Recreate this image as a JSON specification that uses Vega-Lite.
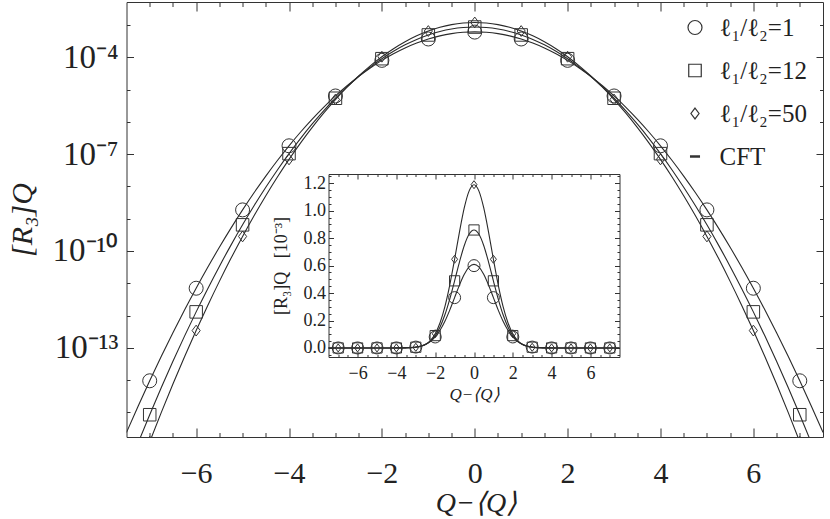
{
 "$schema": "https://vega.github.io/schema/vega-lite/v6.json",
 "width": 696.5,
 "height": 435,
 "autosize": "none",
 "padding": {"left": 126.5, "top": 2, "right": 7, "bottom": 82},
 "background": "white",
 "config": {
  "view": {"stroke": null},
  "font": "Liberation Serif",
  "axis": {"grid": false, "domainColor": "#333", "domainWidth": 1, "tickColor": "#333", "tickWidth": 1, "labelColor": "#222", "titleColor": "#222", "labelFont": "Liberation Serif", "titleFont": "Liberation Serif", "titleFontWeight": "normal", "labelFlush": false, "labelOverlap": false, "labelBound": false}
 },
 "datasets": {
  "curves": [
   {"Q":-7.5,"s":"ℓ₁/ℓ₂=1","R":2.409e-16},{"Q":-7.25,"s":"ℓ₁/ℓ₂=1","R":1.567e-15},{"Q":-7,"s":"ℓ₁/ℓ₂=1","R":9.561e-15},{"Q":-6.75,"s":"ℓ₁/ℓ₂=1","R":5.476e-14},{"Q":-6.5,"s":"ℓ₁/ℓ₂=1","R":2.943e-13},{"Q":-6.25,"s":"ℓ₁/ℓ₂=1","R":1.485e-12},{"Q":-6,"s":"ℓ₁/ℓ₂=1","R":7.030e-12},{"Q":-5.75,"s":"ℓ₁/ℓ₂=1","R":3.124e-11},{"Q":-5.5,"s":"ℓ₁/ℓ₂=1","R":1.303e-10},{"Q":-5.25,"s":"ℓ₁/ℓ₂=1","R":5.099e-10},{"Q":-5,"s":"ℓ₁/ℓ₂=1","R":1.873e-9},{"Q":-4.75,"s":"ℓ₁/ℓ₂=1","R":6.457e-9},{"Q":-4.5,"s":"ℓ₁/ℓ₂=1","R":2.089e-8},{"Q":-4.25,"s":"ℓ₁/ℓ₂=1","R":6.342e-8},{"Q":-4,"s":"ℓ₁/ℓ₂=1","R":1.807e-7},{"Q":-3.75,"s":"ℓ₁/ℓ₂=1","R":4.833e-7},{"Q":-3.5,"s":"ℓ₁/ℓ₂=1","R":1.213e-6},{"Q":-3.25,"s":"ℓ₁/ℓ₂=1","R":2.857e-6},{"Q":-3,"s":"ℓ₁/ℓ₂=1","R":6.317e-6},{"Q":-2.75,"s":"ℓ₁/ℓ₂=1","R":1.310e-5},{"Q":-2.5,"s":"ℓ₁/ℓ₂=1","R":2.552e-5},{"Q":-2.25,"s":"ℓ₁/ℓ₂=1","R":4.663e-5},{"Q":-2,"s":"ℓ₁/ℓ₂=1","R":7.998e-5},{"Q":-1.75,"s":"ℓ₁/ℓ₂=1","R":1.287e-4},{"Q":-1.5,"s":"ℓ₁/ℓ₂=1","R":1.945e-4},{"Q":-1.25,"s":"ℓ₁/ℓ₂=1","R":2.757e-4},{"Q":-1,"s":"ℓ₁/ℓ₂=1","R":3.668e-4},{"Q":-0.75,"s":"ℓ₁/ℓ₂=1","R":4.581e-4},{"Q":-0.5,"s":"ℓ₁/ℓ₂=1","R":5.368e-4},{"Q":-0.25,"s":"ℓ₁/ℓ₂=1","R":5.905e-4},{"Q":0,"s":"ℓ₁/ℓ₂=1","R":6.095e-4},{"Q":0.25,"s":"ℓ₁/ℓ₂=1","R":5.905e-4},{"Q":0.5,"s":"ℓ₁/ℓ₂=1","R":5.368e-4},{"Q":0.75,"s":"ℓ₁/ℓ₂=1","R":4.581e-4},{"Q":1,"s":"ℓ₁/ℓ₂=1","R":3.668e-4},{"Q":1.25,"s":"ℓ₁/ℓ₂=1","R":2.757e-4},{"Q":1.5,"s":"ℓ₁/ℓ₂=1","R":1.945e-4},{"Q":1.75,"s":"ℓ₁/ℓ₂=1","R":1.287e-4},{"Q":2,"s":"ℓ₁/ℓ₂=1","R":7.998e-5},{"Q":2.25,"s":"ℓ₁/ℓ₂=1","R":4.663e-5},{"Q":2.5,"s":"ℓ₁/ℓ₂=1","R":2.552e-5},{"Q":2.75,"s":"ℓ₁/ℓ₂=1","R":1.310e-5},{"Q":3,"s":"ℓ₁/ℓ₂=1","R":6.317e-6},{"Q":3.25,"s":"ℓ₁/ℓ₂=1","R":2.857e-6},{"Q":3.5,"s":"ℓ₁/ℓ₂=1","R":1.213e-6},{"Q":3.75,"s":"ℓ₁/ℓ₂=1","R":4.833e-7},{"Q":4,"s":"ℓ₁/ℓ₂=1","R":1.807e-7},{"Q":4.25,"s":"ℓ₁/ℓ₂=1","R":6.342e-8},{"Q":4.5,"s":"ℓ₁/ℓ₂=1","R":2.089e-8},{"Q":4.75,"s":"ℓ₁/ℓ₂=1","R":6.457e-9},{"Q":5,"s":"ℓ₁/ℓ₂=1","R":1.873e-9},{"Q":5.25,"s":"ℓ₁/ℓ₂=1","R":5.099e-10},{"Q":5.5,"s":"ℓ₁/ℓ₂=1","R":1.303e-10},{"Q":5.75,"s":"ℓ₁/ℓ₂=1","R":3.124e-11},{"Q":6,"s":"ℓ₁/ℓ₂=1","R":7.030e-12},{"Q":6.25,"s":"ℓ₁/ℓ₂=1","R":1.485e-12},{"Q":6.5,"s":"ℓ₁/ℓ₂=1","R":2.943e-13},{"Q":6.75,"s":"ℓ₁/ℓ₂=1","R":5.476e-14},{"Q":7,"s":"ℓ₁/ℓ₂=1","R":9.561e-15},{"Q":7.25,"s":"ℓ₁/ℓ₂=1","R":1.567e-15},{"Q":7.5,"s":"ℓ₁/ℓ₂=1","R":2.409e-16},
   {"Q":-7.5,"s":"ℓ₁/ℓ₂=12","R":1.423e-17},{"Q":-7.25,"s":"ℓ₁/ℓ₂=12","R":1.139e-16},{"Q":-7,"s":"ℓ₁/ℓ₂=12","R":8.501e-16},{"Q":-6.75,"s":"ℓ₁/ℓ₂=12","R":5.911e-15},{"Q":-6.5,"s":"ℓ₁/ℓ₂=12","R":3.830e-14},{"Q":-6.25,"s":"ℓ₁/ℓ₂=12","R":2.313e-13},{"Q":-6,"s":"ℓ₁/ℓ₂=12","R":1.302e-12},{"Q":-5.75,"s":"ℓ₁/ℓ₂=12","R":6.827e-12},{"Q":-5.5,"s":"ℓ₁/ℓ₂=12","R":3.336e-11},{"Q":-5.25,"s":"ℓ₁/ℓ₂=12","R":1.520e-10},{"Q":-5,"s":"ℓ₁/ℓ₂=12","R":6.450e-10},{"Q":-4.75,"s":"ℓ₁/ℓ₂=12","R":2.551e-9},{"Q":-4.5,"s":"ℓ₁/ℓ₂=12","R":9.403e-9},{"Q":-4.25,"s":"ℓ₁/ℓ₂=12","R":3.230e-8},{"Q":-4,"s":"ℓ₁/ℓ₂=12","R":1.034e-7},{"Q":-3.75,"s":"ℓ₁/ℓ₂=12","R":3.084e-7},{"Q":-3.5,"s":"ℓ₁/ℓ₂=12","R":8.575e-7},{"Q":-3.25,"s":"ℓ₁/ℓ₂=12","R":2.222e-6},{"Q":-3,"s":"ℓ₁/ℓ₂=12","R":5.364e-6},{"Q":-2.75,"s":"ℓ₁/ℓ₂=12","R":1.207e-5},{"Q":-2.5,"s":"ℓ₁/ℓ₂=12","R":2.531e-5},{"Q":-2.25,"s":"ℓ₁/ℓ₂=12","R":4.946e-5},{"Q":-2,"s":"ℓ₁/ℓ₂=12","R":9.006e-5},{"Q":-1.75,"s":"ℓ₁/ℓ₂=12","R":1.529e-4},{"Q":-1.5,"s":"ℓ₁/ℓ₂=12","R":2.417e-4},{"Q":-1.25,"s":"ℓ₁/ℓ₂=12","R":3.562e-4},{"Q":-1,"s":"ℓ₁/ℓ₂=12","R":4.892e-4},{"Q":-0.75,"s":"ℓ₁/ℓ₂=12","R":6.262e-4},{"Q":-0.5,"s":"ℓ₁/ℓ₂=12","R":7.469e-4},{"Q":-0.25,"s":"ℓ₁/ℓ₂=12","R":8.303e-4},{"Q":0,"s":"ℓ₁/ℓ₂=12","R":8.600e-4},{"Q":0.25,"s":"ℓ₁/ℓ₂=12","R":8.303e-4},{"Q":0.5,"s":"ℓ₁/ℓ₂=12","R":7.469e-4},{"Q":0.75,"s":"ℓ₁/ℓ₂=12","R":6.262e-4},{"Q":1,"s":"ℓ₁/ℓ₂=12","R":4.892e-4},{"Q":1.25,"s":"ℓ₁/ℓ₂=12","R":3.562e-4},{"Q":1.5,"s":"ℓ₁/ℓ₂=12","R":2.417e-4},{"Q":1.75,"s":"ℓ₁/ℓ₂=12","R":1.529e-4},{"Q":2,"s":"ℓ₁/ℓ₂=12","R":9.006e-5},{"Q":2.25,"s":"ℓ₁/ℓ₂=12","R":4.946e-5},{"Q":2.5,"s":"ℓ₁/ℓ₂=12","R":2.531e-5},{"Q":2.75,"s":"ℓ₁/ℓ₂=12","R":1.207e-5},{"Q":3,"s":"ℓ₁/ℓ₂=12","R":5.364e-6},{"Q":3.25,"s":"ℓ₁/ℓ₂=12","R":2.222e-6},{"Q":3.5,"s":"ℓ₁/ℓ₂=12","R":8.575e-7},{"Q":3.75,"s":"ℓ₁/ℓ₂=12","R":3.084e-7},{"Q":4,"s":"ℓ₁/ℓ₂=12","R":1.034e-7},{"Q":4.25,"s":"ℓ₁/ℓ₂=12","R":3.230e-8},{"Q":4.5,"s":"ℓ₁/ℓ₂=12","R":9.403e-9},{"Q":4.75,"s":"ℓ₁/ℓ₂=12","R":2.551e-9},{"Q":5,"s":"ℓ₁/ℓ₂=12","R":6.450e-10},{"Q":5.25,"s":"ℓ₁/ℓ₂=12","R":1.520e-10},{"Q":5.5,"s":"ℓ₁/ℓ₂=12","R":3.336e-11},{"Q":5.75,"s":"ℓ₁/ℓ₂=12","R":6.827e-12},{"Q":6,"s":"ℓ₁/ℓ₂=12","R":1.302e-12},{"Q":6.25,"s":"ℓ₁/ℓ₂=12","R":2.313e-13},{"Q":6.5,"s":"ℓ₁/ℓ₂=12","R":3.830e-14},{"Q":6.75,"s":"ℓ₁/ℓ₂=12","R":5.911e-15},{"Q":7,"s":"ℓ₁/ℓ₂=12","R":8.501e-16},{"Q":7.25,"s":"ℓ₁/ℓ₂=12","R":1.139e-16},{"Q":7.5,"s":"ℓ₁/ℓ₂=12","R":1.423e-17},
   {"Q":-7.5,"s":"ℓ₁/ℓ₂=50","R":1.477e-18},{"Q":-7.25,"s":"ℓ₁/ℓ₂=50","R":1.401e-17},{"Q":-7,"s":"ℓ₁/ℓ₂=50","R":1.232e-16},{"Q":-6.75,"s":"ℓ₁/ℓ₂=50","R":1.003e-15},{"Q":-6.5,"s":"ℓ₁/ℓ₂=50","R":7.573e-15},{"Q":-6.25,"s":"ℓ₁/ℓ₂=50","R":5.296e-14},{"Q":-6,"s":"ℓ₁/ℓ₂=50","R":3.431e-13},{"Q":-5.75,"s":"ℓ₁/ℓ₂=50","R":2.061e-12},{"Q":-5.5,"s":"ℓ₁/ℓ₂=50","R":1.146e-11},{"Q":-5.25,"s":"ℓ₁/ℓ₂=50","R":5.908e-11},{"Q":-5,"s":"ℓ₁/ℓ₂=50","R":2.821e-10},{"Q":-4.75,"s":"ℓ₁/ℓ₂=50","R":1.249e-9},{"Q":-4.5,"s":"ℓ₁/ℓ₂=50","R":5.120e-9},{"Q":-4.25,"s":"ℓ₁/ℓ₂=50","R":1.945e-8},{"Q":-4,"s":"ℓ₁/ℓ₂=50","R":6.847e-8},{"Q":-3.75,"s":"ℓ₁/ℓ₂=50","R":2.234e-7},{"Q":-3.5,"s":"ℓ₁/ℓ₂=50","R":6.749e-7},{"Q":-3.25,"s":"ℓ₁/ℓ₂=50","R":1.889e-6},{"Q":-3,"s":"ℓ₁/ℓ₂=50","R":4.904e-6},{"Q":-2.75,"s":"ℓ₁/ℓ₂=50","R":1.179e-5},{"Q":-2.5,"s":"ℓ₁/ℓ₂=50","R":2.626e-5},{"Q":-2.25,"s":"ℓ₁/ℓ₂=50","R":5.419e-5},{"Q":-2,"s":"ℓ₁/ℓ₂=50","R":1.036e-4},{"Q":-1.75,"s":"ℓ₁/ℓ₂=50","R":1.837e-4},{"Q":-1.5,"s":"ℓ₁/ℓ₂=50","R":3.015e-4},{"Q":-1.25,"s":"ℓ₁/ℓ₂=50","R":4.586e-4},{"Q":-1,"s":"ℓ₁/ℓ₂=50","R":6.464e-4},{"Q":-0.75,"s":"ℓ₁/ℓ₂=50","R":8.442e-4},{"Q":-0.5,"s":"ℓ₁/ℓ₂=50","R":1.022e-3},{"Q":-0.25,"s":"ℓ₁/ℓ₂=50","R":1.145e-3},{"Q":0,"s":"ℓ₁/ℓ₂=50","R":1.190e-3},{"Q":0.25,"s":"ℓ₁/ℓ₂=50","R":1.145e-3},{"Q":0.5,"s":"ℓ₁/ℓ₂=50","R":1.022e-3},{"Q":0.75,"s":"ℓ₁/ℓ₂=50","R":8.442e-4},{"Q":1,"s":"ℓ₁/ℓ₂=50","R":6.464e-4},{"Q":1.25,"s":"ℓ₁/ℓ₂=50","R":4.586e-4},{"Q":1.5,"s":"ℓ₁/ℓ₂=50","R":3.015e-4},{"Q":1.75,"s":"ℓ₁/ℓ₂=50","R":1.837e-4},{"Q":2,"s":"ℓ₁/ℓ₂=50","R":1.036e-4},{"Q":2.25,"s":"ℓ₁/ℓ₂=50","R":5.419e-5},{"Q":2.5,"s":"ℓ₁/ℓ₂=50","R":2.626e-5},{"Q":2.75,"s":"ℓ₁/ℓ₂=50","R":1.179e-5},{"Q":3,"s":"ℓ₁/ℓ₂=50","R":4.904e-6},{"Q":3.25,"s":"ℓ₁/ℓ₂=50","R":1.889e-6},{"Q":3.5,"s":"ℓ₁/ℓ₂=50","R":6.749e-7},{"Q":3.75,"s":"ℓ₁/ℓ₂=50","R":2.234e-7},{"Q":4,"s":"ℓ₁/ℓ₂=50","R":6.847e-8},{"Q":4.25,"s":"ℓ₁/ℓ₂=50","R":1.945e-8},{"Q":4.5,"s":"ℓ₁/ℓ₂=50","R":5.120e-9},{"Q":4.75,"s":"ℓ₁/ℓ₂=50","R":1.249e-9},{"Q":5,"s":"ℓ₁/ℓ₂=50","R":2.821e-10},{"Q":5.25,"s":"ℓ₁/ℓ₂=50","R":5.908e-11},{"Q":5.5,"s":"ℓ₁/ℓ₂=50","R":1.146e-11},{"Q":5.75,"s":"ℓ₁/ℓ₂=50","R":2.061e-12},{"Q":6,"s":"ℓ₁/ℓ₂=50","R":3.431e-13},{"Q":6.25,"s":"ℓ₁/ℓ₂=50","R":5.296e-14},{"Q":6.5,"s":"ℓ₁/ℓ₂=50","R":7.573e-15},{"Q":6.75,"s":"ℓ₁/ℓ₂=50","R":1.003e-15},{"Q":7,"s":"ℓ₁/ℓ₂=50","R":1.232e-16},{"Q":7.25,"s":"ℓ₁/ℓ₂=50","R":1.401e-17},{"Q":7.5,"s":"ℓ₁/ℓ₂=50","R":1.477e-18}
  ],
  "pts": [
   {"Q":-7,"s":"ℓ₁/ℓ₂=1","R":9.561e-15},{"Q":-6,"s":"ℓ₁/ℓ₂=1","R":7.030e-12},{"Q":-5,"s":"ℓ₁/ℓ₂=1","R":1.873e-9},{"Q":-4,"s":"ℓ₁/ℓ₂=1","R":1.807e-7},{"Q":-3,"s":"ℓ₁/ℓ₂=1","R":6.317e-6},{"Q":-2,"s":"ℓ₁/ℓ₂=1","R":7.998e-5},{"Q":-1,"s":"ℓ₁/ℓ₂=1","R":3.668e-4},{"Q":0,"s":"ℓ₁/ℓ₂=1","R":6.0e-4},{"Q":1,"s":"ℓ₁/ℓ₂=1","R":3.668e-4},{"Q":2,"s":"ℓ₁/ℓ₂=1","R":7.998e-5},{"Q":3,"s":"ℓ₁/ℓ₂=1","R":6.317e-6},{"Q":4,"s":"ℓ₁/ℓ₂=1","R":1.807e-7},{"Q":5,"s":"ℓ₁/ℓ₂=1","R":1.873e-9},{"Q":6,"s":"ℓ₁/ℓ₂=1","R":7.030e-12},{"Q":7,"s":"ℓ₁/ℓ₂=1","R":9.561e-15},
   {"Q":-7,"s":"ℓ₁/ℓ₂=12","R":8.501e-16},{"Q":-6,"s":"ℓ₁/ℓ₂=12","R":1.302e-12},{"Q":-5,"s":"ℓ₁/ℓ₂=12","R":6.450e-10},{"Q":-4,"s":"ℓ₁/ℓ₂=12","R":1.034e-7},{"Q":-3,"s":"ℓ₁/ℓ₂=12","R":5.364e-6},{"Q":-2,"s":"ℓ₁/ℓ₂=12","R":9.006e-5},{"Q":-1,"s":"ℓ₁/ℓ₂=12","R":4.892e-4},{"Q":0,"s":"ℓ₁/ℓ₂=12","R":8.600e-4},{"Q":1,"s":"ℓ₁/ℓ₂=12","R":4.892e-4},{"Q":2,"s":"ℓ₁/ℓ₂=12","R":9.006e-5},{"Q":3,"s":"ℓ₁/ℓ₂=12","R":5.364e-6},{"Q":4,"s":"ℓ₁/ℓ₂=12","R":1.034e-7},{"Q":5,"s":"ℓ₁/ℓ₂=12","R":6.450e-10},{"Q":6,"s":"ℓ₁/ℓ₂=12","R":1.302e-12},{"Q":7,"s":"ℓ₁/ℓ₂=12","R":8.501e-16},
   {"Q":-7,"s":"ℓ₁/ℓ₂=50","R":1.232e-16},{"Q":-6,"s":"ℓ₁/ℓ₂=50","R":3.431e-13},{"Q":-5,"s":"ℓ₁/ℓ₂=50","R":2.821e-10},{"Q":-4,"s":"ℓ₁/ℓ₂=50","R":6.847e-8},{"Q":-3,"s":"ℓ₁/ℓ₂=50","R":4.904e-6},{"Q":-2,"s":"ℓ₁/ℓ₂=50","R":1.036e-4},{"Q":-1,"s":"ℓ₁/ℓ₂=50","R":6.464e-4},{"Q":0,"s":"ℓ₁/ℓ₂=50","R":1.190e-3},{"Q":1,"s":"ℓ₁/ℓ₂=50","R":6.464e-4},{"Q":2,"s":"ℓ₁/ℓ₂=50","R":1.036e-4},{"Q":3,"s":"ℓ₁/ℓ₂=50","R":4.904e-6},{"Q":4,"s":"ℓ₁/ℓ₂=50","R":6.847e-8},{"Q":5,"s":"ℓ₁/ℓ₂=50","R":2.821e-10},{"Q":6,"s":"ℓ₁/ℓ₂=50","R":3.431e-13},{"Q":7,"s":"ℓ₁/ℓ₂=50","R":1.232e-16}
  ]
 },
 "layer": [
  {
   "data": {"name": "curves"},
   "mark": {"type": "line", "clip": true, "interpolate": "monotone", "color": "#2a2a2a", "strokeWidth": 1.1},
   "encoding": {
    "x": {"field": "Q", "type": "quantitative", "scale": {"domain": [-7.5, 7.5], "nice": false, "zero": false},
     "axis": {"orient": "bottom", "values": [-7,-6.5,-6,-5.5,-5,-4.5,-4,-3.5,-3,-2.5,-2,-1.5,-1,-0.5,0,0.5,1,1.5,2,2.5,3,3.5,4,4.5,5,5.5,6,6.5,7],
      "tickSize": {"condition": {"test": "datum.value % 2 == 0", "value": -9}, "value": -4.5},
      "labelExpr": "datum.value % 2 == 0 ? format(datum.value, 'd') : ''",
      "labelFontSize": 30, "labelPadding": 30,
      "title": "Q−⟨Q⟩", "titleFontSize": 28, "titleFontStyle": "italic", "titleX": 349.5, "titleY": 66, "titleBaseline": "middle", "titleAlign": "center"}},
    "y": {"field": "R", "type": "quantitative", "scale": {"type": "log", "domain": [1.738e-16, 5.129e-3], "nice": false},
     "axis": {"orient": "left", "values": [1e-3,1e-4,1e-5,1e-6,1e-7,1e-8,1e-9,1e-10,1e-11,1e-12,1e-13,1e-14,1e-15],
      "tickSize": {"condition": {"test": "abs(round(log(datum.value)/LN10)) % 3 == 1", "value": -7}, "value": -3.5},
      "labelExpr": "abs(round(log(datum.value)/LN10)) % 3 == 1 ? ('10' + (round(log(datum.value)/LN10) == -4 ? '⁻⁴' : round(log(datum.value)/LN10) == -7 ? '⁻⁷' : round(log(datum.value)/LN10) == -10 ? '⁻¹⁰' : '⁻¹³')) : ''",
      "labelFontSize": 33, "labelPadding": 15.5,
      "title": "[R₃]Q", "titleFontSize": 30, "titleFontStyle": "italic", "titleAngle": -90, "titleX": -104, "titleY": 217.5, "titleBaseline": "middle", "titleAlign": "center"}},
    "detail": {"field": "s"}
   }
  },
  {
   "data": {"name": "pts"},
   "mark": {"type": "point", "filled": false, "clip": true, "color": "#333", "strokeWidth": 1, "opacity": 1},
   "encoding": {
    "x": {"field": "Q", "type": "quantitative", "scale": {"domain": [-7.5, 7.5], "nice": false, "zero": false},
     "axis": {"orient": "top", "labels": false, "title": null, "values": [-7,-6.5,-6,-5.5,-5,-4.5,-4,-3.5,-3,-2.5,-2,-1.5,-1,-0.5,0,0.5,1,1.5,2,2.5,3,3.5,4,4.5,5,5.5,6,6.5,7],
      "tickSize": {"condition": {"test": "datum.value % 2 == 0", "value": -9}, "value": -4.5}}},
    "y": {"field": "R", "type": "quantitative", "scale": {"type": "log", "domain": [1.738e-16, 5.129e-3], "nice": false},
     "axis": {"orient": "right", "labels": false, "title": null, "values": [1e-3,1e-4,1e-5,1e-6,1e-7,1e-8,1e-9,1e-10,1e-11,1e-12,1e-13,1e-14,1e-15],
      "tickSize": {"condition": {"test": "abs(round(log(datum.value)/LN10)) % 3 == 1", "value": -7}, "value": -3.5}}},
    "shape": {"field": "s", "type": "nominal",
     "scale": {"domain": ["ℓ₁/ℓ₂=1", "ℓ₁/ℓ₂=12", "ℓ₁/ℓ₂=50", "CFT"], "range": ["circle", "square", "M0,-1L0.75,0L0,1L-0.75,0Z", "M-1,-0.15H1V0.15H-1Z"]},
     "legend": {"orient": "none", "legendX": 556, "legendY": 13, "title": null, "labelFont": "Liberation Serif", "labelFontSize": 25, "labelColor": "#222", "rowPadding": 17, "labelOffset": 12, "symbolStrokeWidth": 1.2, "symbolStrokeColor": "#333"}},
    "size": {"field": "s", "type": "nominal",
     "scale": {"domain": ["ℓ₁/ℓ₂=1", "ℓ₁/ℓ₂=12", "ℓ₁/ℓ₂=50", "CFT"], "range": [196, 78, 190, 64]},
     "legend": {"orient": "none", "legendX": 556, "legendY": 13, "title": null, "labelFont": "Liberation Serif", "labelFontSize": 25, "labelColor": "#222", "rowPadding": 17, "labelOffset": 12, "symbolStrokeWidth": 1.2, "symbolStrokeColor": "#333"}}
   }
  },
  {
   "data": {"name": "curves"},
   "mark": {"type": "line", "clip": true, "interpolate": "monotone", "color": "#2a2a2a", "strokeWidth": 1.1},
   "encoding": {
    "x": {"field": "Q", "type": "quantitative", "scale": {"domain": [-7.5, 7.5], "nice": false, "zero": false, "range": [202, 493]},
     "axis": {"orient": "bottom", "offset": -80, "values": [-7,-6.5,-6,-5.5,-5,-4.5,-4,-3.5,-3,-2.5,-2,-1.5,-1,-0.5,0,0.5,1,1.5,2,2.5,3,3.5,4,4.5,5,5.5,6,6.5,7],
      "tickSize": {"condition": {"test": "datum.value % 2 == 0", "value": -5}, "value": -2.5},
      "labelExpr": "datum.value % 2 == 0 ? format(datum.value, 'd') : ''",
      "labelFontSize": 18, "labelPadding": 12,
      "title": "Q−⟨Q⟩", "titleFontSize": 17, "titleFontStyle": "italic", "titleX": 347.5, "titleY": 37, "titleBaseline": "middle", "titleAlign": "center"}},
    "y": {"field": "R", "type": "quantitative", "scale": {"domain": [-0.000066, 0.001268], "nice": false, "zero": false, "range": [355, 172]},
     "axis": {"orient": "left", "offset": -202, "values": [-0.00005,0,0.00005,0.0001,0.00015,0.0002,0.00025,0.0003,0.00035,0.0004,0.00045,0.0005,0.00055,0.0006,0.00065,0.0007,0.00075,0.0008,0.00085,0.0009,0.00095,0.001,0.00105,0.0011,0.00115,0.0012,0.00125],
      "tickSize": {"condition": {"test": "round(datum.value*20000) % 4 == 0", "value": -5}, "value": -2.5},
      "labelExpr": "round(datum.value*20000) % 4 == 0 ? format(datum.value*1000, '.1f') : ''",
      "labelFontSize": 18, "labelPadding": 8,
      "title": "[R₃]Q\u00a0\u00a0\u00a0[10⁻³]", "titleFontSize": 18, "titleAngle": -90, "titleX": -47.5, "titleY": 263.5, "titleBaseline": "middle", "titleAlign": "center"}},
    "detail": {"field": "s"}
   }
  },
  {
   "data": {"name": "pts"},
   "mark": {"type": "point", "filled": false, "clip": true, "color": "#333", "strokeWidth": 1, "opacity": 1},
   "encoding": {
    "x": {"field": "Q", "type": "quantitative", "scale": {"domain": [-7.5, 7.5], "nice": false, "zero": false, "range": [202, 493]},
     "axis": {"orient": "top", "offset": -172, "labels": false, "title": null, "values": [-7,-6.5,-6,-5.5,-5,-4.5,-4,-3.5,-3,-2.5,-2,-1.5,-1,-0.5,0,0.5,1,1.5,2,2.5,3,3.5,4,4.5,5,5.5,6,6.5,7],
      "tickSize": {"condition": {"test": "datum.value % 2 == 0", "value": -5}, "value": -2.5}}},
    "y": {"field": "R", "type": "quantitative", "scale": {"domain": [-0.000066, 0.001268], "nice": false, "zero": false, "range": [355, 172]},
     "axis": {"orient": "right", "offset": -203.5, "labels": false, "title": null, "values": [-0.00005,0,0.00005,0.0001,0.00015,0.0002,0.00025,0.0003,0.00035,0.0004,0.00045,0.0005,0.00055,0.0006,0.00065,0.0007,0.00075,0.0008,0.00085,0.0009,0.00095,0.001,0.00105,0.0011,0.00115,0.0012,0.00125],
      "tickSize": {"condition": {"test": "round(datum.value*20000) % 4 == 0", "value": -5}, "value": -2.5}}},
    "shape": {"field": "s", "type": "nominal",
     "scale": {"domain": ["ℓ₁/ℓ₂=1", "ℓ₁/ℓ₂=12", "ℓ₁/ℓ₂=50"], "range": ["circle", "square", "M0,-1L0.75,0L0,1L-0.75,0Z"]}, "legend": null},
    "size": {"field": "s", "type": "nominal",
     "scale": {"domain": ["ℓ₁/ℓ₂=1", "ℓ₁/ℓ₂=12", "ℓ₁/ℓ₂=50"], "range": [144, 64, 120]}, "legend": null}
   }
  }
 ],
 "resolve": {
  "scale": {"x": "independent", "y": "independent", "shape": "independent", "size": "independent"},
  "axis": {"x": "independent", "y": "independent"}
 }
}
